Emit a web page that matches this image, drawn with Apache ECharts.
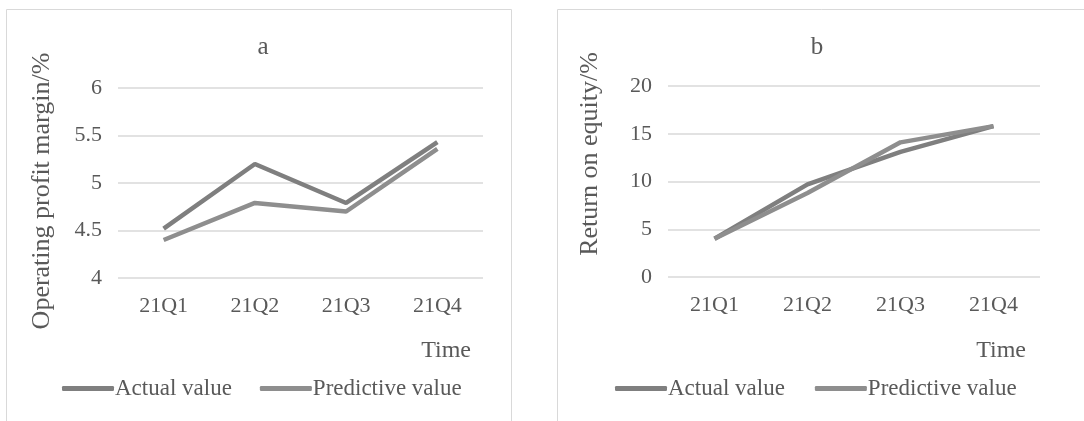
<!DOCTYPE html>
<html><head><meta charset="utf-8">
<script src="https://cdn.jsdelivr.net/npm/echarts@6/dist/echarts.min.js"></script>
<style>html,body{margin:0;padding:0;background:#fff}#c{width:1084px;height:421px}</style>
</head><body><div id="c"></div>
<script>
var categories = ['21Q1', '21Q2', '21Q3', '21Q4'];
var opmActual = [4.52, 5.2, 4.79, 5.43];
var opmPredictive = [4.4, 4.79, 4.7, 5.36];
var roeActual = [4, 9.7, 13.1, 15.8];
var roePredictive = [4, 8.8, 14.1, 15.8];
var panelTitles = ['a', 'b'];
var yNames = ['Operating profit margin/%', 'Return on equity/%'];
var seriesNames = ['Actual value', 'Predictive value'];

var FONT = 'Liberation Serif';
var TXT = '#595959';
var C1 = '#7f7f7f', C2 = '#8e8e8e';

var chart = echarts.init(document.getElementById('c'));
function yAxis(i, min, max, interval) {
  return {
    type: 'value', gridIndex: i, min: min, max: max, interval: interval,
    axisLine: {show: false}, axisTick: {show: false},
    axisLabel: {fontFamily: FONT, fontSize: 22, color: TXT, margin: 16},
    splitLine: {lineStyle: {color: '#d9d9d9', width: 1.5}}
  };
}
function xAxis(i) {
  return {
    type: 'category', gridIndex: i, data: categories, boundaryGap: true,
    axisLine: {show: false}, axisTick: {show: false},
    axisLabel: {fontFamily: FONT, fontSize: 22, color: TXT, margin: 17},
    splitLine: {show: false}
  };
}
function vText(txt, x, y) {
  return {type: 'text', x: x, y: y, rotation: Math.PI / 2,
    style: {text: txt, font: '26px "Liberation Serif"', fill: TXT, align: 'center', verticalAlign: 'middle'}};
}
var legendText = {fontFamily: FONT, fontSize: 23, color: TXT, padding: [0, 0, 0, -4]};
var opt = {
  animation: false,
  graphic: [
    {type: 'rect', shape: {x: 6.5, y: 9.5, width: 505, height: 430}, style: {fill: 'none', stroke: '#d9d9d9', lineWidth: 1}},
    {type: 'rect', shape: {x: 557.5, y: 9.5, width: 560, height: 430}, style: {fill: 'none', stroke: '#d9d9d9', lineWidth: 1}},
    vText(yNames[0], 42, 191),
    vText(yNames[1], 590, 154),
    {type: 'text', right: 1084 - 471, top: 339, style: {text: 'Time', font: '24px "Liberation Serif"', fill: TXT}},
    {type: 'text', right: 1084 - 1026, top: 339, style: {text: 'Time', font: '24px "Liberation Serif"', fill: TXT}}
  ],
  title: [
    {text: panelTitles[0], left: 258, top: 30, textAlign: 'center', textStyle: {fontFamily: FONT, fontSize: 25, fontWeight: 'normal', color: TXT}},
    {text: panelTitles[1], left: 812, top: 30, textAlign: 'center', textStyle: {fontFamily: FONT, fontSize: 25, fontWeight: 'normal', color: TXT}}
  ],
  legend: [
    {data: seriesNames, left: 62, top: 377, padding: 0, icon: 'roundRect', itemWidth: 52, itemHeight: 5, itemGap: 28, textStyle: legendText},
    {data: [seriesNames[0] + ' ', seriesNames[1] + ' '], left: 615, top: 377, padding: 0, icon: 'roundRect', itemWidth: 52, itemHeight: 5, itemGap: 30,
     formatter: function (n) { return n.trim(); }, textStyle: legendText}
  ],
  grid: [
    {left: 118, top: 88, width: 365, height: 190},
    {left: 668, top: 86, width: 372, height: 191}
  ],
  xAxis: [xAxis(0), xAxis(1)],
  yAxis: [yAxis(0, 4, 6, 0.5), yAxis(1, 0, 20, 5)],
  series: [
    {name: seriesNames[0], type: 'line', xAxisIndex: 0, yAxisIndex: 0, data: opmActual, showSymbol: false, lineStyle: {width: 4.5, color: C1}, itemStyle: {color: C1}},
    {name: seriesNames[1], type: 'line', xAxisIndex: 0, yAxisIndex: 0, data: opmPredictive, showSymbol: false, lineStyle: {width: 4.5, color: C2}, itemStyle: {color: C2}},
    {name: seriesNames[0] + ' ', type: 'line', xAxisIndex: 1, yAxisIndex: 1, data: roeActual, showSymbol: false, lineStyle: {width: 4.5, color: C1}, itemStyle: {color: C1}},
    {name: seriesNames[1] + ' ', type: 'line', xAxisIndex: 1, yAxisIndex: 1, data: roePredictive, showSymbol: false, lineStyle: {width: 4.5, color: C2}, itemStyle: {color: C2}}
  ]
};
chart.setOption(opt);
</script></body></html>
